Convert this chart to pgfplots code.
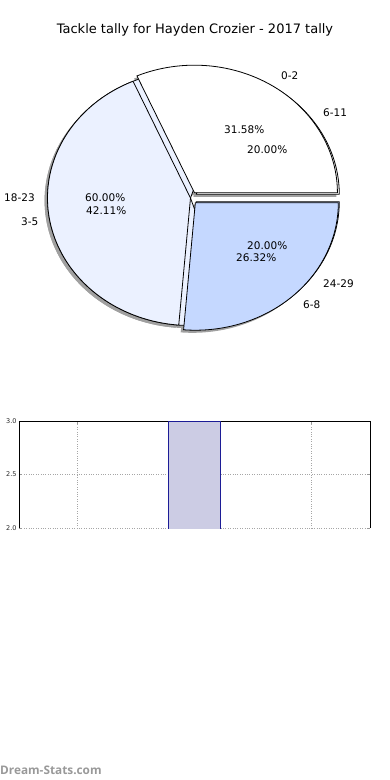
\documentclass[border=0pt]{standalone}
\usepackage{pgfplots}
\pgfplotsset{compat=1.18}
\usepackage{pgfplotstable}
\usepackage{fontspec}
\setmainfont{DejaVu Sans}
\newfontfamily\wmfont{Open Sans}

\pgfplotstableread{
label pct
0-2 31.58
18-23 42.11
24-29 26.32
}\seriesA
\pgfplotstableread{
label pct
6-11 20.00
3-5 60.00
6-8 20.00
}\seriesB

\definecolor{sliceA}{RGB}{255,255,255}
\definecolor{sliceB}{RGB}{235,241,255}
\definecolor{sliceC}{RGB}{197,216,255}
\definecolor{shadowgray}{RGB}{160,160,160}
\definecolor{barfill}{RGB}{204,204,228}
\definecolor{baredge}{RGB}{28,28,150}

\def\cx{190.5}\def\cy{198}\def\ra{143}\def\rb{127.5}
\def\expl{0.05}

% #1 start, #2 end, #3 explode, #4 style, #5 dx, #6 dy
\newcommand\drawwedge[6]{%
  \pgfmathsetmacro\wmid{(#1+#2)/2}%
  \pgfmathsetmacro\wvx{\cx+#3*\ra*cos(\wmid)+#5}%
  \pgfmathsetmacro\wvy{\cy-#3*\rb*sin(\wmid)+#6}%
  \edef\wtemp{\noexpand\addplot[#4, domain=#1:#2, samples=120, variable=\noexpand\t]
    ({\wvx+\ra*cos(\noexpand\t)},{\wvy-\rb*sin(\noexpand\t)}) -- (\wvx,\wvy) -- cycle;}%
  \wtemp}

\begin{document}
\begin{tikzpicture}
\pgfplotstablegetelem{0}{pct}\of\seriesA \let\pAa\pgfplotsretval
\pgfplotstablegetelem{1}{pct}\of\seriesA \let\pAb\pgfplotsretval
\pgfplotstablegetelem{0}{pct}\of\seriesB \let\pBa\pgfplotsretval
\pgfplotstablegetelem{1}{pct}\of\seriesB \let\pBb\pgfplotsretval
\pgfmathsetmacro\aA{3.6*\pAa}
\pgfmathsetmacro\aB{3.6*(\pAa+\pAb)}
\pgfmathsetmacro\bA{3.6*\pBa}
\pgfmathsetmacro\bB{3.6*(\pBa+\pBb)}
\path (0pt,0pt) rectangle (390pt,-780pt);
\begin{axis}[
  scale only axis, width=390pt, height=780pt,
  at={(0pt,0pt)}, anchor=north west,
  xmin=0, xmax=390, ymin=0, ymax=780, y dir=reverse,
  hide axis, clip=false]
  % shadows
  \drawwedge{0}{\bA}{\expl}{fill=shadowgray, draw=none}{-2.9}{2.6}
  \drawwedge{\bA}{\bB}{0}{fill=shadowgray, draw=none}{-2.9}{2.6}
  \drawwedge{\bB}{360}{\expl}{fill=shadowgray, draw=none}{-2.9}{2.6}
  \drawwedge{0}{\aA}{\expl}{fill=shadowgray, draw=none}{-2.9}{2.6}
  \drawwedge{\aA}{\aB}{0}{fill=shadowgray, draw=none}{-2.9}{2.6}
  \drawwedge{\aB}{360}{\expl}{fill=shadowgray, draw=none}{-2.9}{2.6}
  % second series
  \drawwedge{0}{\bA}{\expl}{fill=sliceA, draw=black, line width=0.8pt}{0}{0}
  \drawwedge{\bA}{\bB}{0}{fill=sliceB, draw=black, line width=0.8pt}{0}{0}
  \drawwedge{\bB}{360}{\expl}{fill=sliceC, draw=black, line width=0.8pt}{0}{0}
  % first series
  \drawwedge{0}{\aA}{\expl}{fill=sliceA, draw=black, line width=0.8pt}{0}{0}
  \drawwedge{\aA}{\aB}{0}{fill=sliceB, draw=black, line width=0.8pt}{0}{0}
  \drawwedge{\aB}{360}{\expl}{fill=sliceC, draw=black, line width=0.8pt}{0}{0}
  % labels
  \begin{scope}[every node/.style={font=\fontsize{10.5}{12}\selectfont, inner sep=0pt, anchor=west}]
  \node at (axis cs:281,76) {0-2};
  \node at (axis cs:323,113) {6-11};
  \node at (axis cs:4,198) {18-23};
  \node at (axis cs:21,222) {3-5};
  \node at (axis cs:323,284) {24-29};
  \node at (axis cs:303,305) {6-8};
  \node at (axis cs:224,130) {31.58\%};
  \node at (axis cs:247,150) {20.00\%};
  \node at (axis cs:85,198) {60.00\%};
  \node at (axis cs:86,211) {42.11\%};
  \node at (axis cs:247,246) {20.00\%};
  \node at (axis cs:236,258) {26.32\%};
  \end{scope}
  \node[font=\fontsize{13}{15}\selectfont, inner sep=0pt] at (axis cs:195,30) {Tackle tally for Hayden Crozier - 2017 tally};
  \node[font=\wmfont\bfseries\fontsize{11.8}{13}\selectfont, text=black!40, inner sep=0pt, anchor=west] at (axis cs:0,770) {Dream-Stats.com};
\end{axis}
\begin{axis}[
  scale only axis, width=351pt, height=107pt,
  at={(19pt,-528pt)}, anchor=south west,
  xmin=-0.5, xmax=2.5, ymin=2, ymax=3,
  axis x line*=top, axis y line*=box,
  xtick={0,1,2}, xticklabels={},
  ytick={2,2.5,3}, yticklabels={2.0,2.5,3.0},
  tick align=inside,
  major tick length=3pt,
  tick style={gray!80, line width=1pt},
  grid=major, grid style={dotted, gray!70, line width=1pt},
  axis line style={black, line width=0.8pt},
  yticklabel style={font=\fontsize{6.5}{7}\selectfont, text=black!85, xshift=1pt},
]
  % bar at x=1 (width 0.45), value 3; open outline so no base edge
  \addplot[fill=barfill, draw=baredge, line width=0.8pt] coordinates {(0.775,0) (0.775,3) (1.225,3) (1.225,0)};
\end{axis}
\end{tikzpicture}
\end{document}
